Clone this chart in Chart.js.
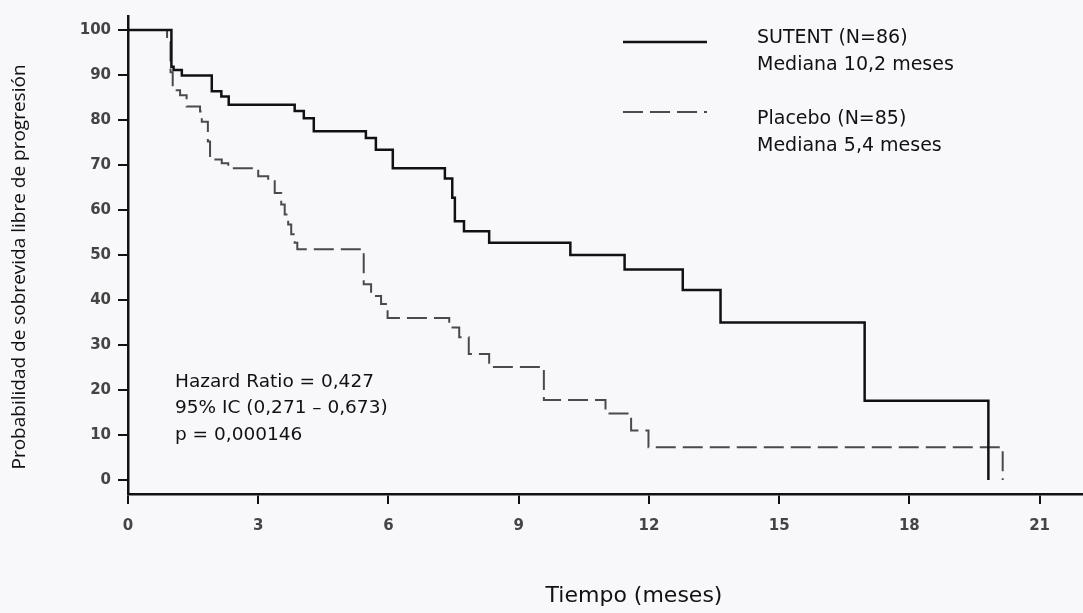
<!DOCTYPE html>
<html>
<head>
<meta charset="utf-8">
<script src="https://cdn.jsdelivr.net/npm/chart.js@4"></script>
<style>
  body { margin: 0; background: #f8f8fa; }
  #wrap { width: 1083px; height: 613px; position: relative; }
</style>
</head>
<body>
<div id="wrap"><canvas id="km"></canvas></div>
<script>
// Kaplan-Meier steps (months, % progression-free)
const sutentT = [0, 1.0, 1.05, 1.24, 1.93, 2.15, 2.32, 3.84, 4.05, 4.28, 5.48, 5.71, 6.1, 7.3, 7.47, 7.53, 7.74, 8.32, 10.19, 11.44, 12.78, 13.65, 16.97, 19.82];
const sutentS = [100, 91.8, 91.1, 89.9, 86.4, 85.2, 83.4, 82.0, 80.4, 77.5, 76.0, 73.4, 69.3, 67.0, 62.7, 57.5, 55.3, 52.7, 50.0, 46.8, 42.2, 35.0, 17.6, 0];

const placeboT = [0, 0.9, 0.98, 1.03, 1.2, 1.35, 1.66, 1.7, 1.84, 1.89, 2.16, 2.31, 3.0, 3.23, 3.38, 3.53, 3.61, 3.69, 3.76, 3.84, 3.9, 5.43, 5.6, 5.83, 5.98, 7.4, 7.63, 7.85, 8.32, 9.58, 11.0, 11.59, 11.99, 20.15];
const placeboS = [100, 97.6, 90.6, 86.6, 85.5, 83.0, 81.9, 79.6, 75.2, 71.2, 70.4, 69.3, 67.5, 66.4, 63.8, 61.2, 59.0, 56.8, 54.6, 52.7, 51.3, 43.5, 40.9, 39.1, 36.0, 33.9, 31.7, 28.0, 25.1, 17.8, 14.8, 11.0, 7.3, 0];

const xTicks = [0, 3, 6, 9, 12, 15, 18, 21];
const yTicks = [0, 10, 20, 30, 40, 50, 60, 70, 80, 90, 100];

const legendLines = [
  ['SUTENT (N=86)', 'Mediana 10,2 meses'],
  ['Placebo (N=85)', 'Mediana 5,4 meses']
];
const statsText = ['Hazard Ratio = 0,427', '95% IC (0,271 \u2013 0,673)', 'p = 0,000146'];
const xTitle = 'Tiempo (meses)';
const yTitle = 'Probabilidad de sobrevida libre de progresión';

const toXY = (t, s) => t.map((v, i) => ({ x: v, y: s[i] }));

const extras = {
  id: 'extras',
  afterDraw(chart) {
    const ctx = chart.ctx;
    ctx.save();
    ctx.fillStyle = '#111';
    ctx.textBaseline = 'middle';
    ctx.font = '19px "DejaVu Sans"';

    // legend
    const ds = chart.data.datasets;
    const rows = [[42, 38, 65], [112, 119, 146]];
    rows.forEach((r, i) => {
      ctx.save();
      ctx.strokeStyle = ds[i].borderColor;
      ctx.lineWidth = ds[i].borderWidth;
      ctx.setLineDash(ds[i].borderDash || []);
      ctx.beginPath();
      ctx.moveTo(623, r[0]);
      ctx.lineTo(707, r[0]);
      ctx.stroke();
      ctx.restore();
      ctx.textAlign = 'left';
      ctx.fillText(legendLines[i][0], 757, r[1]);
      ctx.fillText(legendLines[i][1], 757, r[2]);
    });

    // statistics
    ctx.font = '18.5px "DejaVu Sans"';
    statsText.forEach((s, i) => ctx.fillText(s, 175, 382 + i * 26.5));

    // axis titles
    ctx.textAlign = 'center';
    ctx.font = '22px "DejaVu Sans"';
    ctx.fillText(xTitle, 634, 596);
    ctx.font = '19px "Open Sans"';
    ctx.translate(20, 267);
    ctx.rotate(-Math.PI / 2);
    ctx.fillText(yTitle, 0, 0);
    ctx.restore();
  }
};

const tickFont = { family: 'DejaVu Sans', size: 15, weight: 'bold' };

new Chart(document.getElementById('km'), {
  type: 'line',
  data: {
    datasets: [{
      label: 'SUTENT',
      data: toXY(sutentT, sutentS),
      borderColor: '#111',
      borderWidth: 2.5,
      stepped: true,
      pointRadius: 0,
      fill: false
    }, {
      label: 'Placebo',
      data: toXY(placeboT, placeboS),
      borderColor: '#4a4a4a',
      borderWidth: 2,
      borderDash: [20, 7],
      stepped: true,
      pointRadius: 0,
      fill: false
    }]
  },
  options: {
    responsive: true,
    maintainAspectRatio: false,
    animation: false,
    layout: { padding: { top: 6, left: 0, right: 0, bottom: 0 } },
    plugins: { legend: { display: false }, tooltip: { enabled: false } },
    scales: {
      x: {
        type: 'linear',
        min: 0,
        max: 22,
        border: { color: '#111', width: 2.5 },
        grid: { drawOnChartArea: false, tickLength: 10, color: '#111', lineWidth: 2 },
        ticks: { padding: 13, color: '#444', font: tickFont },
        afterBuildTicks: s => { s.ticks = xTicks.map(v => ({ value: v })); },
        afterFit: s => { s.height = 119; }
      },
      y: {
        min: -3.1,
        max: 103.1,
        border: { color: '#111', width: 2.5 },
        grid: { drawOnChartArea: false, tickLength: 10, color: '#111', lineWidth: 2 },
        ticks: { padding: 7, color: '#444', font: tickFont },
        afterBuildTicks: s => { s.ticks = yTicks.map(v => ({ value: v })); },
        afterFit: s => { s.width = 128; }
      }
    }
  },
  plugins: [extras]
});
</script>
</body>
</html>
